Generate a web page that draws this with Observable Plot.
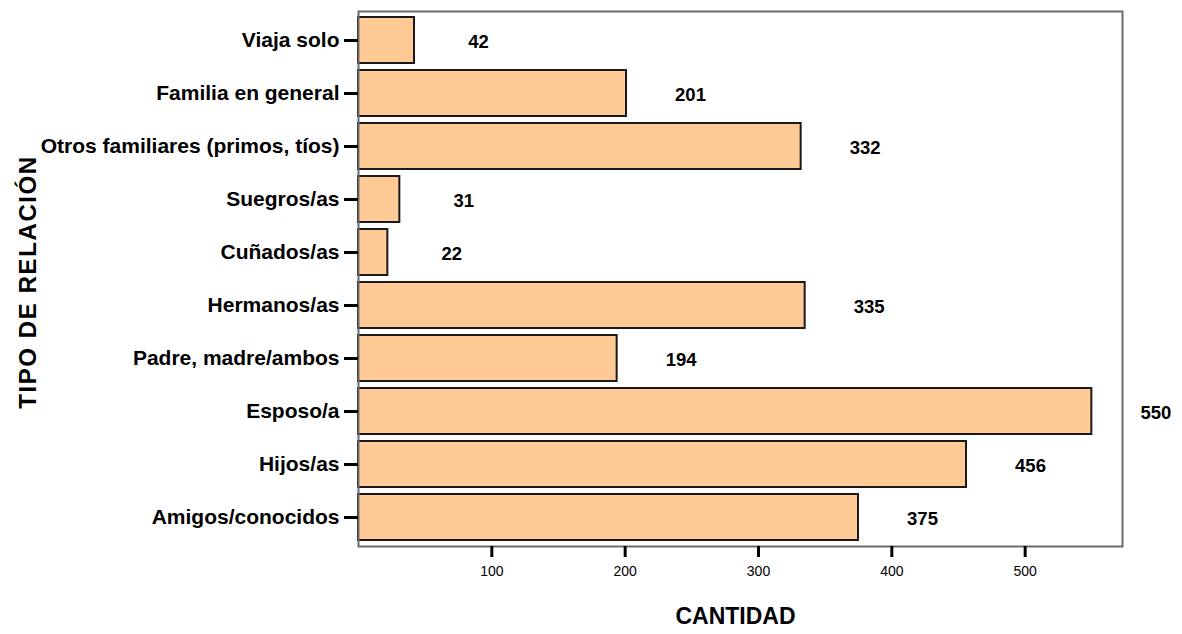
<!DOCTYPE html>
<html><head><meta charset="utf-8">
<script src="https://cdn.jsdelivr.net/npm/d3@7"></script>
<script src="https://cdn.jsdelivr.net/npm/@observablehq/plot@0.6"></script>
<style>
body{margin:0;background:#fff}
</style>
</head><body><div id="chart"></div>
<script>
const categories = ["Viaja solo","Familia en general","Otros familiares (primos, tíos)","Suegros/as","Cuñados/as","Hermanos/as","Padre, madre/ambos","Esposo/a","Hijos/as","Amigos/conocidos"];
const values = [42,201,332,31,22,335,194,550,456,375];
const xTicks = [100,200,300,400,500];
const xTitle = ["CANTIDAD"];
const yTitle = ["TIPO DE RELACIÓN"];

const data = categories.map((c,i)=>({cat:c, value:values[i]}));
const font = '"Liberation Sans",Arial,sans-serif';

const chart = Plot.plot({
  width:1182, height:634,
  marginLeft:358, marginRight:60, marginTop:11, marginBottom:88,
  x:{domain:[0,573]},
  y:{domain:categories, paddingInner:0.13, paddingOuter:0.085},
  style:{background:"#fff"},
  marks:[
    Plot.barX(data,{x:"value", y:"cat", fill:"#FFCA96", stroke:"#1a1a1a", strokeWidth:2}),
    Plot.frame({stroke:"#6b6b6b", strokeWidth:2}),
    Plot.axisY({tickSize:14, tickPadding:5, strokeWidth:3, stroke:"#000", fill:"#000", fontSize:21, fontWeight:"bold", fontFamily:font, label:null}),
    Plot.axisX({ticks:xTicks, tickSize:11, tickPadding:9, strokeWidth:3, stroke:"#000", fill:"#000", fontSize:14, fontFamily:font, label:null, tickFormat:d=>String(d)}),
    Plot.text(data,{x:"value", y:"cat", text:d=>String(d.value), dx:64, dy:2, textAnchor:"middle", fontSize:18.5, fontWeight:"bold", fontFamily:font, fill:"#000", clip:false}),
    Plot.text(xTitle,{frameAnchor:"bottom", text:d=>d, dy:77, dx:-5, fontSize:23, fontWeight:"bold", fontFamily:font, fill:"#000"}),
    Plot.text(yTitle,{frameAnchor:"left", text:d=>d, dx:-330, dy:3, rotate:-90, textAnchor:"middle", fontSize:24, fontWeight:"bold", fontFamily:font, fill:"#000"})
  ]
});
chart.querySelectorAll("text").forEach(t => {
  if (t.textContent === yTitle[0]) t.style.letterSpacing = "1.6px";
});
document.getElementById("chart").appendChild(chart);
</script>
</body></html>
